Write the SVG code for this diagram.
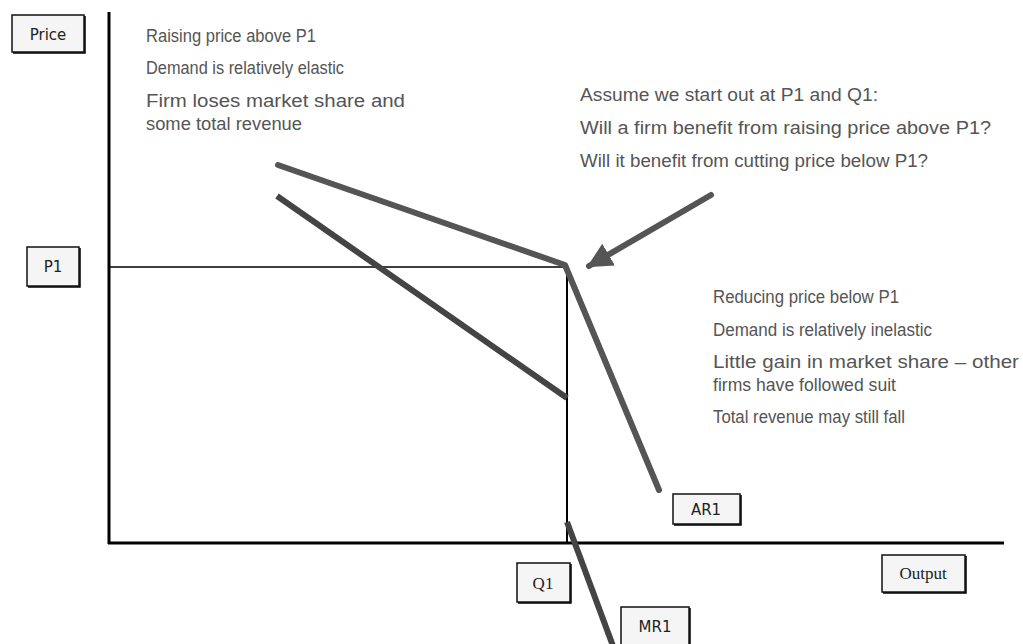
<svg xmlns="http://www.w3.org/2000/svg" width="1023" height="644" viewBox="0 0 1023 644">
<style>
.t{font-family:"Liberation Sans",Arial,sans-serif;font-size:17.5px;fill:#555;}
.b rect{fill:#f5f5f5;stroke:#111;stroke-width:1.5;}
.b path{stroke:#000;stroke-width:1.5;fill:none;}
.b text{font-family:"DejaVu Sans",sans-serif;font-size:15px;fill:#222;text-anchor:middle;}
.ax{stroke:#000;fill:none;}
.curve{stroke:#555;stroke-width:6;fill:none;stroke-linecap:round;stroke-linejoin:round;}
.mr{stroke:#444;stroke-width:6;fill:none;stroke-linecap:butt;}
</style>
<defs>
<marker id="ah" viewBox="0 0 10 10" refX="9" refY="5" markerWidth="4.2" markerHeight="4.2" orient="auto" markerUnits="strokeWidth">
<path d="M0,0 L10,5 L0,10 z" fill="#555"/>
</marker>
</defs>
<rect width="1023" height="644" fill="#fff"/>
<g id="connectors">
<line class="ax" x1="109" y1="12" x2="109" y2="544" stroke-width="3"/>
<line class="ax" x1="108" y1="543" x2="1004" y2="543" stroke-width="3"/>
<line class="ax" x1="109" y1="267" x2="567" y2="267" stroke-width="1.5"/>
<line class="ax" x1="567" y1="267" x2="567" y2="543" stroke-width="2"/>
<polyline class="curve" points="278,165 565,265 659,490"/>
<line class="mr" x1="277" y1="196" x2="567" y2="398"/>
<line class="mr" x1="567" y1="522" x2="613" y2="646"/>
<line x1="711" y1="195" x2="589" y2="266" stroke="#555" stroke-width="6" stroke-linecap="round" marker-end="url(#ah)"/>
</g>
<g id="price" class="b"><rect x="12" y="15" width="72" height="37"/><path d="M85,16 V53 H13"/><text x="48" y="40">Price</text></g>
<g id="p1" class="b"><rect x="27" y="247" width="52" height="39"/><path d="M80,248 V287 H28"/><text x="53" y="272">P1</text></g>
<g id="q1" class="b"><rect x="517" y="563" width="53" height="39"/><path d="M571,564 V603 H518"/><text x="543" y="589" style="font-family:'Liberation Serif',serif;font-size:17px">Q1</text></g>
<g id="ar1" class="b"><rect x="673" y="494" width="67" height="30"/><path d="M741,495 V525 H674"/><text x="706" y="515">AR1</text></g>
<g id="mr1" class="b"><rect x="621" y="607" width="68" height="40"/><path d="M690,608 V647"/><text x="655" y="632">MR1</text></g>
<g id="output" class="b"><rect x="882" y="555" width="83" height="37"/><path d="M966,556 V593 H883"/><text x="923" y="579" style="font-family:'Liberation Serif',serif;font-size:17px">Output</text></g>
<g id="left-text">
<text class="t" x="146" y="42" textLength="170" lengthAdjust="spacingAndGlyphs">Raising price above P1</text>
<text class="t" x="146" y="74" textLength="198" lengthAdjust="spacingAndGlyphs">Demand is relatively elastic</text>
<text class="t" x="146" y="107" textLength="259" lengthAdjust="spacingAndGlyphs">Firm loses market share and</text>
<text class="t" x="146" y="130" textLength="156" lengthAdjust="spacingAndGlyphs">some total revenue</text>
</g>
<g id="question-text">
<text class="t" x="580" y="101" textLength="298" lengthAdjust="spacingAndGlyphs">Assume we start out at P1 and Q1:</text>
<text class="t" x="580" y="134" textLength="411" lengthAdjust="spacingAndGlyphs">Will a firm benefit from raising price above P1?</text>
<text class="t" x="580" y="167" textLength="348" lengthAdjust="spacingAndGlyphs">Will it benefit from cutting price below P1?</text>
</g>
<g id="right-text">
<text class="t" x="713" y="303" textLength="186" lengthAdjust="spacingAndGlyphs">Reducing price below P1</text>
<text class="t" x="713" y="336" textLength="219" lengthAdjust="spacingAndGlyphs">Demand is relatively inelastic</text>
<text class="t" x="713" y="368" textLength="306" lengthAdjust="spacingAndGlyphs">Little gain in market share – other</text>
<text class="t" x="713" y="391" textLength="183" lengthAdjust="spacingAndGlyphs">firms have followed suit</text>
<text class="t" x="713" y="423" textLength="192" lengthAdjust="spacingAndGlyphs">Total revenue may still fall</text>
</g>
</svg>
